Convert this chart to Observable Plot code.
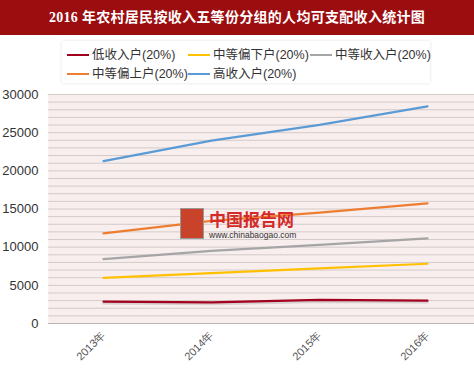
<!DOCTYPE html>
<html><head><meta charset="utf-8">
<script src="https://cdn.jsdelivr.net/npm/d3@7"></script>
<script src="https://cdn.jsdelivr.net/npm/@observablehq/plot@0.6"></script>
<style>
body{margin:0;width:474px;height:373px;overflow:hidden;background:#fff;font-family:"Liberation Sans",Arial,"Noto Sans CJK SC",sans-serif;position:relative}
#title{height:35px;background:#9c0d0f;color:#fff;font-weight:bold;font-size:14px;line-height:35px;text-align:center;font-family:"Liberation Serif","Noto Sans CJK SC",serif;letter-spacing:0.3px}
#legend{position:absolute;left:62px;top:41px;width:368px;height:42px;background:#fff;box-shadow:0 0 3px rgba(0,0,0,0.12)}
.li{position:absolute;font-size:12.5px;color:#333;white-space:nowrap;font-family:"Liberation Sans","Noto Sans CJK SC",sans-serif}
.sw{display:inline-block;width:22px;height:2px;vertical-align:middle;margin-right:3px;position:relative;top:-1px}
#chart{position:absolute;left:0;top:85px}
#wm{position:absolute;left:180px;top:208px}
</style></head><body>
<div id="title">2016 年农村居民按收入五等份分组的人均可支配收入统计图</div>
<div id="legend"></div>
<div id="chart"></div>
<div id="wm">
  <div style="position:absolute;left:0;top:0;width:22px;height:29px;background:#c8432a;border:1px solid #999"></div>
  <div style="position:absolute;left:29px;top:2px;font-size:17px;line-height:18px;font-weight:bold;color:#d42a2a;white-space:nowrap;font-family:'Noto Sans CJK SC',sans-serif">中国报告网</div>
  <div style="position:absolute;left:29px;top:23px;font-size:8.5px;line-height:9px;color:#333;white-space:nowrap">www.chinabaogao.com</div>
</div>
<script>
const years = ["2013年","2014年","2015年","2016年"];
const seriesNames = ["低收入户(20%)","中等偏下户(20%)","中等收入户(20%)","中等偏上户(20%)","高收入户(20%)"];
const low = [2878, 2768, 3086, 3006];
const lowerMid = [5966, 6604, 7221, 7828];
const mid = [8438, 9504, 10311, 11159];
const upperMid = [11816, 13449, 14537, 15727];
const high = [21273, 23947, 26014, 28448];
const colors = ["#a3001f","#ffc000","#a5a5a5","#ed7d31","#5b9bd5"];
const yTicks = [0,5000,10000,15000,20000,25000,30000];

const all = [low, lowerMid, mid, upperMid, high];
const data = [];
all.forEach((arr, i) => arr.forEach((v, j) => data.push({year: years[j], value: v, series: seriesNames[i]})));

// legend
const leg = document.getElementById("legend");
const pos = [[5,3],[126,3],[248,3],[5,22],[126,22]];
seriesNames.forEach((s,i)=>{
  const d = document.createElement("div");
  d.className="li";
  d.style.left=pos[i][0]+"px"; d.style.top=pos[i][1]+"px";
  d.innerHTML=`<span class="sw" style="background:${colors[i]}"></span>${s}`;
  leg.appendChild(d);
});

const chart = Plot.plot({
  width: 474, height: 288,
  marginLeft: 48, marginRight: -8, marginTop: 9, marginBottom: 50,
  style: {background: "transparent", overflow: "visible", fontFamily: "Liberation Sans, Arial, sans-serif"},
  x: {type: "point", domain: years, padding: 0.5, label: null},
  y: {domain: [0, 30000], label: null},
  color: {domain: seriesNames, range: colors},
  marks: [
    Plot.frame({fill: "#f8eeee", stroke: null}),
    Plot.ruleY(d3.range(0, 30001, 1000), {stroke: "#d3caca", strokeWidth: 1}),
    Plot.ruleY([0], {stroke: "#bdb5b5"}),
    Plot.axisY({ticks: yTicks, tickSize: 0, tickPadding: 10, fontSize: 13, fill: "#333", tickFormat: d => String(d)}),
    Plot.axisX({tickSize: 0, tickRotate: -45, tickPadding: 10, fontSize: 11, fill: "#555"}),
    Plot.line(data.filter(d=>d.series===seriesNames[0]), {x: "year", y: "value", stroke: "#999", strokeWidth: 3, strokeOpacity: 0.35, dy: 1.5}),
    Plot.line(data, {x: "year", y: "value", z: "series", stroke: "series", strokeWidth: 2.2})
  ]
});
document.getElementById("chart").appendChild(chart);
</script>
</body></html>
